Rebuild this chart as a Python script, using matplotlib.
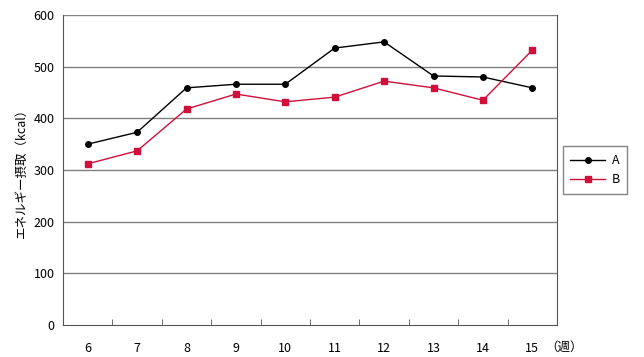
import matplotlib
matplotlib.use('Agg')
from matplotlib import pyplot as plt
import numpy as np

plt.rcParams['font.family'] = ['Noto Sans CJK JP', 'DejaVu Sans']

weeks = ['6', '7', '8', '9', '10', '11', '12', '13', '14', '15']
a_vals = [350, 373, 459, 466, 466, 536, 548, 482, 480, 459]
b_vals = [312, 337, 418, 447, 432, 441, 472, 459, 435, 532]
y_ticks = [0, 100, 200, 300, 400, 500, 600]

x = np.arange(len(weeks))

fig = plt.figure(figsize=(6.44, 3.57), dpi=100)
ax = fig.add_axes([63 / 644, 32 / 357, 494 / 644, 310 / 357])

for yt in y_ticks[1:]:
    ax.axhline(yt, color='#808080', lw=1.0, zorder=1)

ax.plot(x, a_vals, color='black', lw=1.0, marker='o', ms=4, label='A', zorder=3)
ax.plot(x, b_vals, color='#d0103a', lw=1.0, marker='s', ms=4, label='B', zorder=3)

ax.set_xlim(-0.5, len(weeks) - 0.5)
ax.set_ylim(0, 600)
ax.set_yticks(y_ticks)
ax.set_xticks(x)
ax.set_xticklabels(weeks)
ax.tick_params(axis='x', length=0, pad=12, labelsize=9)
ax.tick_params(axis='y', length=0, pad=6, labelsize=9)
ax.set_xticks(x[:-1] + 0.5, minor=True)
ax.tick_params(axis='x', which='minor', direction='in', length=4, color='#555555')

for side in ['left', 'bottom', 'right']:
    ax.spines[side].set_color('#555555')
ax.spines['top'].set_visible(False)

ax.set_ylabel('エネルギー摂取（kcal）', fontsize=9, labelpad=4)
ax.text(9.27, -0.072, '（週）', transform=ax.get_xaxis_transform(),
        fontsize=9, ha='left', va='center')

leg = ax.legend(loc='center left', bbox_to_anchor=(1.012, 0.5), frameon=True,
                fancybox=False, edgecolor='#666666', fontsize=9,
                handlelength=2.8, borderpad=0.6, labelspacing=0.5, borderaxespad=0,
                handletextpad=0.5)
leg.get_frame().set_linewidth(1.0)

fig.savefig('out.png', dpi=100)
